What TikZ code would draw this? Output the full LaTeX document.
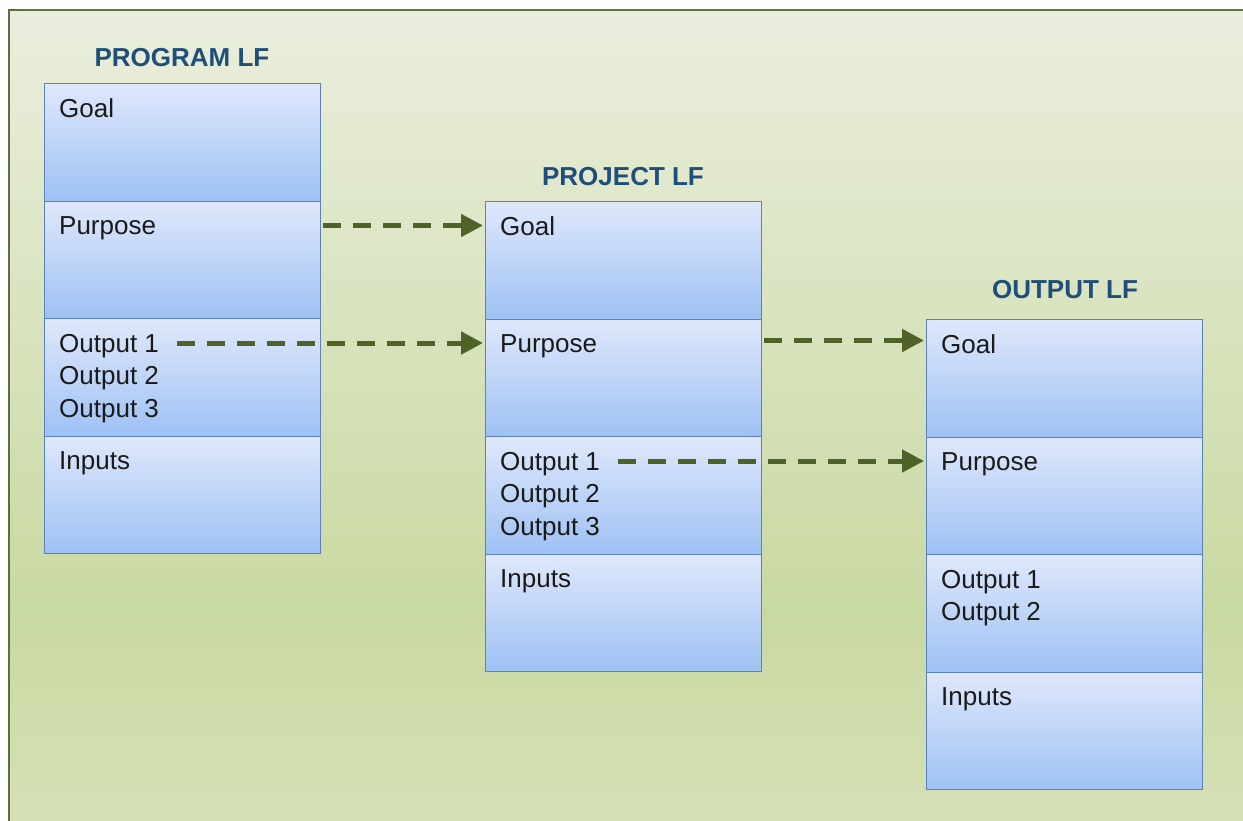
\documentclass[tikz,border=0pt]{standalone}
\usepackage{fontspec}
\setmainfont{Liberation Sans}
\usetikzlibrary{arrows.meta,calc}
\definecolor{bgtop}{HTML}{EAEEDD}
\definecolor{bgmid}{HTML}{C9D9A2}
\definecolor{bgbot}{HTML}{D6E1B7}
\definecolor{frameol}{HTML}{5E6E40}
\definecolor{celltop}{HTML}{DFE8FB}
\definecolor{cellbot}{HTML}{9EC1F4}
\definecolor{cellline}{HTML}{5B82BD}
\definecolor{titleblue}{HTML}{1F4E79}
\definecolor{arrowol}{HTML}{4F6228}
\definecolor{txt}{HTML}{1A1A1A}
\pgfdeclareverticalshading{bgshade}{100bp}{color(0bp)=(bgbot); color(25bp)=(bgbot); color(39bp)=(bgmid); color(75bp)=(bgtop); color(100bp)=(bgtop)}
\tikzset{
  cell/.style={draw=cellline, line width=1.3pt, top color=celltop, bottom color=cellbot,
    minimum width=276pt, minimum height=117.5pt, anchor=north west, inner sep=0pt},
  celltext/.style={anchor=base west, inner sep=0pt, text=txt, font=\fontsize{26}{30}\selectfont},
  title/.style={anchor=base, inner sep=0pt, text=titleblue, font=\fontsize{26}{30}\selectfont\bfseries},
  flow/.style={draw=arrowol, line width=5pt, dash pattern=on 18pt off 12pt,
    -{Triangle[length=22pt,width=22pt]}, shorten >=2pt}
}
\begin{document}
\begin{tikzpicture}[x=1pt,y=-1pt]
\useasboundingbox (0,0) rectangle (1243,820);
\clip (0,0) rectangle (1243,820);
\fill[white] (0,0) rectangle (1243,820);
\shade[shading=bgshade] (9,10) rectangle (1260,840);
\draw[frameol, line width=2pt] (9,10) rectangle (1260,840);

% ---------- PROGRAM LF ----------
\node[title] (tPrg) at (182,66) {PROGRAM LF};
\node[cell] (prgGoal) at (44,83) {};
\node[cell] (prgPurpose) at (44,200.5) {};
\node[cell] (prgOutputs) at (44,318) {};
\node[cell] (prgInputs) at (44,435.5) {};
\node[celltext] (prgGoalT) at ($(prgGoal.north west)+(15,34)$) {Goal};
\node[celltext] (prgPurposeT) at ($(prgPurpose.north west)+(15,34)$) {Purpose};
\node[celltext] (prgOut1) at ($(prgOutputs.north west)+(15,34)$) {Output 1};
\node[celltext] (prgOut2) at ($(prgOutputs.north west)+(15,66.5)$) {Output 2};
\node[celltext] (prgOut3) at ($(prgOutputs.north west)+(15,99)$) {Output 3};
\node[celltext] (prgInputsT) at ($(prgInputs.north west)+(15,34)$) {Inputs};

% ---------- PROJECT LF ----------
\node[title] (tPrj) at (623,185) {PROJECT LF};
\node[cell] (prjGoal) at (485,201) {};
\node[cell] (prjPurpose) at (485,318.5) {};
\node[cell] (prjOutputs) at (485,436) {};
\node[cell] (prjInputs) at (485,553.5) {};
\node[celltext] (prjGoalT) at ($(prjGoal.north west)+(15,34)$) {Goal};
\node[celltext] (prjPurposeT) at ($(prjPurpose.north west)+(15,34)$) {Purpose};
\node[celltext] (prjOut1) at ($(prjOutputs.north west)+(15,34)$) {Output 1};
\node[celltext] (prjOut2) at ($(prjOutputs.north west)+(15,66.5)$) {Output 2};
\node[celltext] (prjOut3) at ($(prjOutputs.north west)+(15,99)$) {Output 3};
\node[celltext] (prjInputsT) at ($(prjInputs.north west)+(15,34)$) {Inputs};

% ---------- OUTPUT LF ----------
\node[title] (tOut) at (1065,298) {OUTPUT LF};
\node[cell] (outGoal) at (926,319) {};
\node[cell] (outPurpose) at (926,436.5) {};
\node[cell] (outOutputs) at (926,554) {};
\node[cell] (outInputs) at (926,671.5) {};
\node[celltext] (outGoalT) at ($(outGoal.north west)+(15,34)$) {Goal};
\node[celltext] (outPurposeT) at ($(outPurpose.north west)+(15,34)$) {Purpose};
\node[celltext] (outOut1) at ($(outOutputs.north west)+(15,34)$) {Output 1};
\node[celltext] (outOut2) at ($(outOutputs.north west)+(15,66.5)$) {Output 2};
\node[celltext] (outInputsT) at ($(outInputs.north west)+(15,34)$) {Inputs};

% ---------- connectors ----------
\draw[flow] ($(prgPurpose.east |- prgPurposeT.base)+(2,-9)$) -- ($(prjGoal.west |- prgPurposeT.base)+(0,-9)$);
\draw[flow] ($(prgOut1.base east)+(18,-9)$) -- ($(prjPurpose.west |- prgOut1.base)+(0,-9)$);
\draw[flow] ($(prjPurpose.east |- prjPurposeT.base)+(2,-12)$) -- ($(outGoal.west |- prjPurposeT.base)+(0,-12)$);
\draw[flow] ($(prjOut1.base east)+(18,-9)$) -- ($(outPurpose.west |- prjOut1.base)+(0,-9)$);
\end{tikzpicture}
\end{document}
